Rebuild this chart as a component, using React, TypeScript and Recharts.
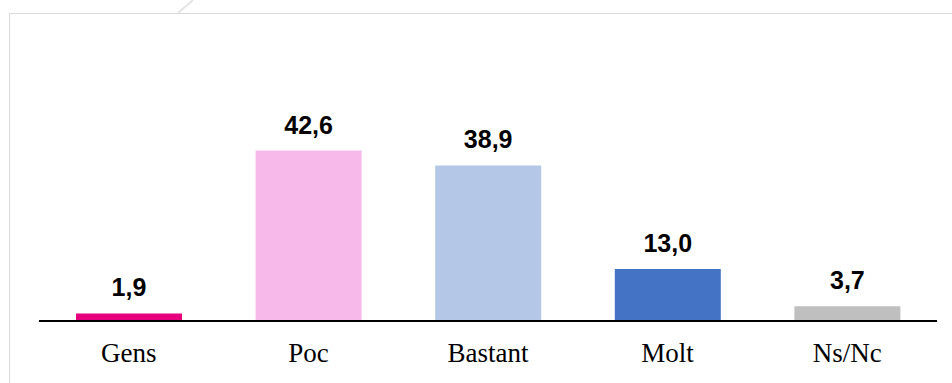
import { BarChart, Bar, XAxis, YAxis, Cell, LabelList } from "recharts";

const categories = ["Gens", "Poc", "Bastant", "Molt", "Ns/Nc"];
const values = [1.9, 42.6, 38.9, 13.0, 3.7];
const barColors = ["#e6007e", "#f7b9e9", "#b4c7e7", "#4472c4", "#bfbfbf"];

const data = categories.map((name, i) => ({ name, value: values[i] }));

const formatValue = (v: any) => Number(v).toFixed(1).replace(".", ",");

export default function App() {
  return (
    <div style={{ position: "absolute", left: 0, top: 0, width: 952, height: 383, overflow: "hidden", background: "#fff" }}>
      <div
        style={{
          position: "absolute",
          left: 9,
          top: 13,
          width: 1000,
          height: 420,
          border: "1.5px solid #d9d9d9",
        }}
      />
      <svg style={{ position: "absolute", left: 0, top: 0 }} width={952} height={20}>
        <line x1={193} y1={0} x2={178} y2={13} stroke="#e4e4e4" strokeWidth={2} />
      </svg>
      <div style={{ position: "absolute", left: 0, top: 0 }}>
        <BarChart
          width={952}
          height={383}
          data={data}
          margin={{ top: 121, right: 15, bottom: 22, left: 39 }}
        >
          <XAxis
            dataKey="name"
            height={40}
            axisLine={{ stroke: "#000", strokeWidth: 2 }}
            tickLine={false}
            tickMargin={16}
            tick={{ fill: "#000", fontSize: 27, fontFamily: "'Liberation Serif', serif" }}
            interval={0}
          />
          <YAxis hide domain={[0, 50]} />
          <Bar dataKey="value" barSize={106} isAnimationActive={false}>
            {data.map((d, i) => (
              <Cell key={d.name} fill={barColors[i]} />
            ))}
            <LabelList
              dataKey="value"
              position="top"
              offset={17}
              formatter={formatValue}
              style={{ fill: "#000", fontSize: 25, fontWeight: "bold", fontFamily: "'Liberation Sans', Arial, sans-serif" }}
            />
          </Bar>
        </BarChart>
      </div>
    </div>
  );
}
